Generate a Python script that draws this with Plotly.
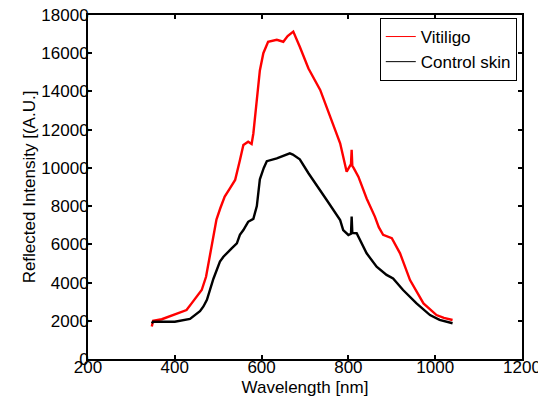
import plotly.graph_objects as go

# Vitiligo spectrum (wavelength nm, reflected intensity A.U.)
vit_wl = [347, 350, 370, 397, 427, 440, 462, 472, 485, 496, 505, 515, 527, 539, 550, 558,
          569, 577, 581, 585, 589, 596, 604, 615, 635, 650, 660, 673, 688, 708, 735, 750,
          765, 781, 796, 804, 806, 807.5, 809, 812, 823, 842, 861, 870, 880, 900, 919, 942,
          973, 1003, 1020, 1040]
vit_int = [1700, 2000, 2080, 2300, 2560, 2950, 3610, 4300, 5900, 7300, 7900, 8500, 8930, 9370,
           10400, 11200, 11370, 11250, 11800, 12700, 13700, 15100, 16000, 16600, 16700, 16600,
           16900, 17130, 16340, 15200, 14080, 13200, 12330, 11290, 9800, 10150, 10200, 10940,
           10100, 10000, 9540, 8400, 7450, 6900, 6500, 6320, 5530, 4130, 2910, 2300, 2150, 2040]

# Control skin spectrum
ctl_wl = [347, 350, 400, 435, 458, 466, 474, 489, 504, 512, 531, 543, 550, 558, 569, 581, 589,
          596, 605, 612, 635, 665, 672, 688, 708, 719, 750, 781, 788, 800, 806, 807.5, 809, 819,
          842, 865, 888, 903, 926, 957, 988, 1010, 1040]
ctl_int = [1870, 1950, 1950, 2100, 2500, 2750, 3100, 4200, 5100, 5350, 5790, 6050, 6500, 6750,
           7180, 7330, 8000, 9400, 10000, 10350, 10500, 10760, 10700, 10450, 9720, 9370, 8320,
           7270, 6750, 6490, 6550, 7450, 6600, 6580, 5530, 4830, 4400, 4220, 3610, 2910, 2300,
           2050, 1870]

series_names = ["Vitiligo", "Control skin"]
series_colors = ["#ff0000", "#000000"]
x_ticks = [200, 400, 600, 800, 1000, 1200]
y_ticks = [0, 2000, 4000, 6000, 8000, 10000, 12000, 14000, 16000, 18000]

FONT = "Liberation Sans, Arial, Helvetica, sans-serif"

fig = go.Figure()
for wl, inten, name, color in [(vit_wl, vit_int, series_names[0], series_colors[0]),
                               (ctl_wl, ctl_int, series_names[1], series_colors[1])]:
    fig.add_trace(go.Scatter(x=wl, y=inten, mode="lines", name=name, showlegend=False,
                             line=dict(color=color, width=2.4)))
# thin legend samples (legend-only entries, no data)
for name, color in zip(series_names, series_colors):
    fig.add_trace(go.Scatter(x=[None], y=[None], mode="lines", name=name,
                             line=dict(color=color, width=1)))

axis_common = dict(
    showline=True, linecolor="black", linewidth=2, mirror="ticks",
    ticks="inside", ticklen=4, tickwidth=2, tickcolor="black",
    showgrid=False, zeroline=False, automargin=False,
    ticklabeloverflow="allow",
    tickfont=dict(family=FONT, size=17, color="black"),
)

fig.update_xaxes(range=[200, 1200], tickvals=x_ticks, ticktext=[str(v) for v in x_ticks],
                 ticklabelstandoff=-8,
                 title=dict(text="Wavelength [nm]", font=dict(family=FONT, size=17, color="black"),
                            standoff=5),
                 **axis_common)
fig.update_yaxes(range=[0, 18000], tickvals=y_ticks, ticktext=[str(v) for v in y_ticks],
                 ticklabelstandoff=-6,
                 title=dict(text="Reflected Intensity [(A.U.]",
                            font=dict(family=FONT, size=17, color="black"), standoff=1),
                 **axis_common)

# page body has an 8px default margin, so the figure is sized/offset to compensate
fig.update_layout(
    width=538, height=397,
    margin=dict(l=80, r=24, t=7, b=46),
    paper_bgcolor="white", plot_bgcolor="white",
    font=dict(family=FONT, size=17, color="black"),
    showlegend=True,
    legend=dict(x=0.988, y=0.9913, xanchor="right", yanchor="top",
                bgcolor="white", bordercolor="black", borderwidth=1,
                font=dict(family=FONT, size=17, color="black"),
                tracegroupgap=0, itemwidth=30),
)

fig.write_html("out.html")
